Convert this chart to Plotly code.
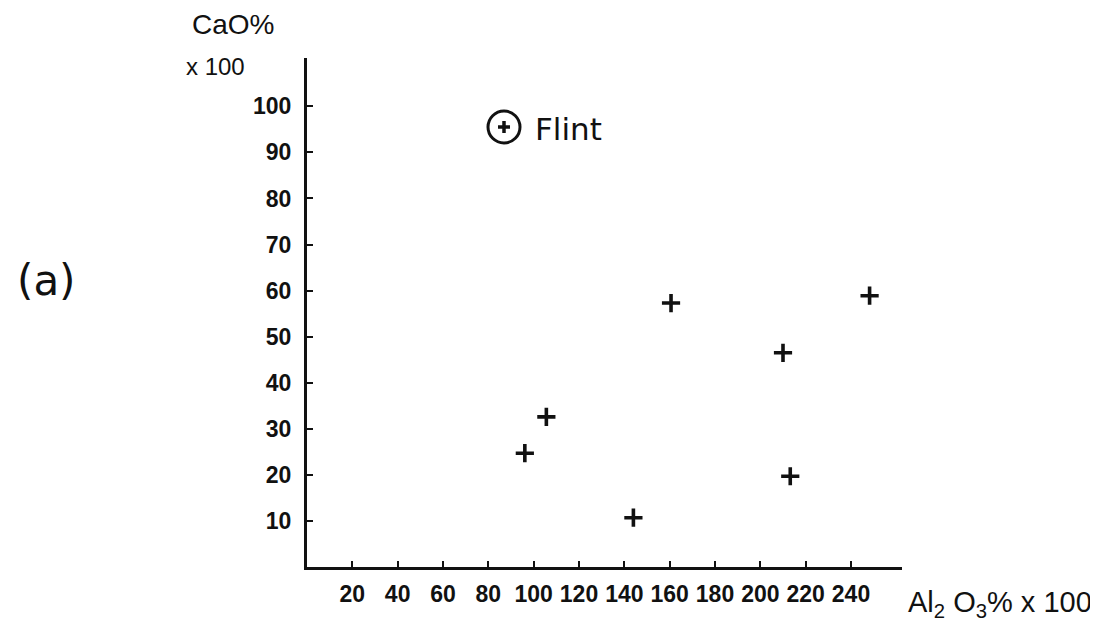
import plotly.graph_objects as go

# ---- data ----
al2o3 = [96.1, 105.6, 144.0, 160.6, 210.0, 213.2, 248.2]
cao = [24.7, 32.6, 10.7, 57.3, 46.5, 19.7, 58.9]
x_ticks = [20, 40, 60, 80, 100, 120, 140, 160, 180, 200, 220, 240]
y_ticks = [10, 20, 30, 40, 50, 60, 70, 80, 90, 100]
series_name = "Flint"

# page body has an 8px default margin; size the figure so it fits the window
OFF = 8
W, H = 1098 - OFF, 628 - OFF
ML, MR, MT, MB = 307 - OFF, 196, 58 - OFF, 61
PW, PH = W - ML - MR, H - MT - MB

def px(x):
    return (x - OFF - ML) / PW

def py(y):
    return (H - MB - (y - OFF)) / PH

TICK_FONT = "Liberation Sans, Arial, sans-serif"
BLACK = "#111111"

fig = go.Figure()
fig.add_trace(go.Scatter(
    x=al2o3, y=cao, mode="markers", name=series_name, showlegend=False,
    marker=dict(symbol="cross-thin", size=13, color=BLACK,
                line=dict(width=3.6, color=BLACK)),
))

axis_common = dict(
    showgrid=False, zeroline=False, showline=True, linecolor=BLACK, linewidth=3,
    ticks="inside", ticklen=6, tickwidth=2, tickcolor=BLACK, tickangle=0,
    automargin=False,
    tickfont=dict(family=TICK_FONT, size=23, color=BLACK, weight="bold"),
)

fig.update_layout(
    width=W, height=H,
    margin=dict(l=ML, r=MR, t=MT, b=MB, pad=0, autoexpand=False),
    paper_bgcolor="white", plot_bgcolor="white",
    showlegend=False,
    xaxis=dict(range=[0, 262.5], tickvals=x_ticks, ticktext=[str(v) for v in x_ticks],
               ticklabelstandoff=4, **axis_common),
    yaxis=dict(range=[0, 110.5], tickvals=y_ticks, ticktext=[str(v) for v in y_ticks],
               ticklabelstandoff=8, **axis_common),
)

ann = [
    dict(text="CaO%", x=px(190), y=py(25), xanchor="left", yanchor="middle",
         font=dict(family=TICK_FONT, size=28, color=BLACK)),
    dict(text="x 100", x=px(184), y=py(66), xanchor="left", yanchor="middle",
         font=dict(family=TICK_FONT, size=24, color=BLACK)),
    dict(text="Al<sub>2</sub> O<sub>3</sub>% x 100", x=px(906), y=py(604),
         xanchor="left", yanchor="middle",
         font=dict(family=TICK_FONT, size=29, color=BLACK)),
    dict(text="(a)", x=px(46), y=py(280), xanchor="center", yanchor="middle",
         font=dict(family="DejaVu Sans", size=42, color=BLACK)),
    dict(text=series_name, x=px(533), y=py(129), xanchor="left", yanchor="middle",
         font=dict(family="DejaVu Sans", size=31, color=BLACK)),
]
for a in ann:
    a.update(xref="paper", yref="paper", showarrow=False)
fig.update_layout(annotations=ann)

# legend key: circled plus
cx, cy, r = 504, 127, 16
shapes = [
    dict(type="circle", x0=px(cx - r), x1=px(cx + r), y0=py(cy + r), y1=py(cy - r),
         line=dict(color=BLACK, width=3)),
    dict(type="line", x0=px(cx - 6), x1=px(cx + 6), y0=py(cy), y1=py(cy),
         line=dict(color=BLACK, width=3.5)),
    dict(type="line", x0=px(cx), x1=px(cx), y0=py(cy - 6), y1=py(cy + 6),
         line=dict(color=BLACK, width=3.5)),
]
for s in shapes:
    s.update(xref="paper", yref="paper")
fig.update_layout(shapes=shapes)

fig.write_html("out.html")
